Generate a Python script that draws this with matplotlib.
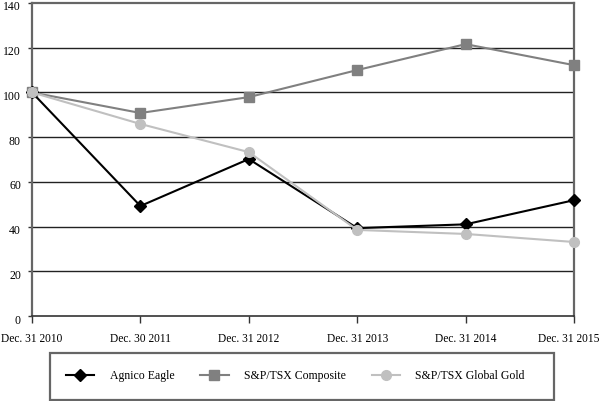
import matplotlib
matplotlib.use("Agg")
import matplotlib.pyplot as plt
import matplotlib.transforms as mtransforms
from matplotlib.patches import Rectangle

dates = ["Dec. 31 2010", "Dec. 30 2011", "Dec. 31 2012",
         "Dec. 31 2013", "Dec. 31 2014", "Dec. 31 2015"]
agnico = [100, 49.2, 70.2, 39.3, 41.0, 51.8]
composite = [100, 90.8, 97.9, 110.0, 121.6, 112.2]
gold = [100, 85.9, 73.3, 38.5, 36.7, 33.1]
yticks = [0, 20, 40, 60, 80, 100, 120, 140]

plt.rcParams['font.family'] = ['Liberation Serif', 'DejaVu Serif']

fig = plt.figure(figsize=(6.01, 4.01), dpi=100)
ax = fig.add_axes([32 / 601, 85 / 401, 542 / 601, 313 / 401])

x = list(range(len(dates)))
l1, = ax.plot(x, agnico, color='black', lw=1.5, marker='D', ms=6.5,
              label='Agnico Eagle', zorder=4, clip_on=False)
l2, = ax.plot(x, composite, color='#808080', lw=1.5, marker='s', ms=7,
              label='S&P/TSX Composite', zorder=3, clip_on=False)
l3, = ax.plot(x, gold, color='#c0c0c0', lw=1.5, marker='o', ms=7,
              label='S&P/TSX Global Gold', zorder=5, clip_on=False)

ax.set_xlim(0, len(dates) - 1)
ax.set_ylim(0, 140)
ax.set_yticks(yticks)
ax.set_xticks(x)
ax.set_xticklabels(dates, fontsize=8.3)
ax.tick_params(axis='y', length=3, width=1, color='#333333', pad=5,
               labelsize=8.5)
ax.tick_params(axis='x', length=5, width=1, color='#333333', pad=7,
               direction='out')
for v in yticks[1:-1]:
    ax.axhline(v, color='#222222', lw=1, zorder=1)

# nudge labels a little like the reference
down = mtransforms.ScaledTranslation(0, -3 / 100, fig.dpi_scale_trans)
for lab in ax.get_yticklabels():
    lab.set_transform(lab.get_transform() + down)
last = ax.get_xticklabels()[-1]
last.set_transform(last.get_transform() +
                   mtransforms.ScaledTranslation(-5 / 100, 0, fig.dpi_scale_trans))

for side in ['left', 'right', 'top']:
    ax.spines[side].set_color('#666666')
    ax.spines[side].set_linewidth(1.6)
ax.spines['bottom'].set_color('#333333')
ax.spines['bottom'].set_linewidth(1.2)
ax.spines['bottom'].set_zorder(6)

# legend box
fig.patches.append(Rectangle((50 / 601, 1 / 401), 504 / 601, 47 / 401,
                             transform=fig.transFigure, fill=False,
                             edgecolor='#666666', lw=1.6))
leg = fig.legend(handles=[l1, l2, l3], loc='center left',
                 bbox_to_anchor=(66 / 601, 25 / 401),
                 ncol=3, fontsize=8.5, frameon=False,
                 borderaxespad=0, borderpad=0, handlelength=2.4,
                 handletextpad=1.3, columnspacing=2.2)

fig.savefig("out.png", dpi=100)
